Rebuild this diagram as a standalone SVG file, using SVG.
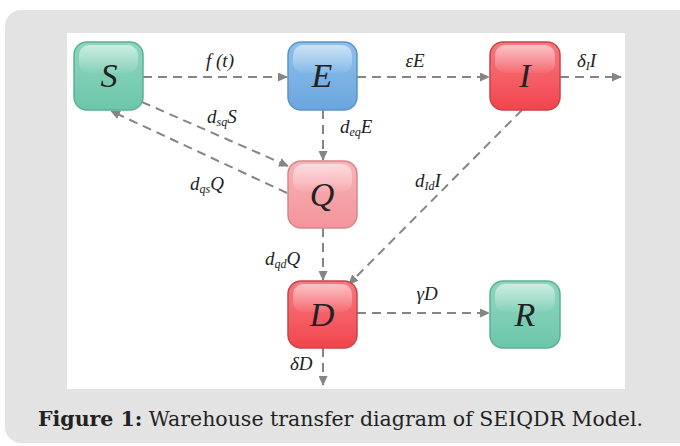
<svg xmlns="http://www.w3.org/2000/svg" width="680" height="446" viewBox="0 0 680 446">
<defs>
<style>
.lbl{font-family:"Liberation Serif","Times New Roman",serif;font-style:italic;font-size:19px;fill:#222}
.sub{font-size:12px}
.big{font-family:"Liberation Serif","Times New Roman",serif;font-style:italic;font-size:34px;fill:#222;text-anchor:middle}
.con{stroke:#858585;stroke-width:2;stroke-dasharray:9,6;fill:none}
.hl{fill:url(#hl)}
</style>
<marker id="ah" markerWidth="10" markerHeight="9" refX="9" refY="4.5" orient="auto" markerUnits="userSpaceOnUse">
<path d="M0,0 L10,4.5 L0,9 z" fill="#858585"/>
</marker>
<linearGradient id="gG" x1="0" y1="0" x2="0" y2="1"><stop offset="0" stop-color="#8fd6bf"/><stop offset="1" stop-color="#6cc6aa"/></linearGradient>
<linearGradient id="gB" x1="0" y1="0" x2="0" y2="1"><stop offset="0" stop-color="#8ec0ec"/><stop offset="1" stop-color="#6aa6de"/></linearGradient>
<linearGradient id="gR" x1="0" y1="0" x2="0" y2="1"><stop offset="0" stop-color="#f77a80"/><stop offset="1" stop-color="#f2454d"/></linearGradient>
<linearGradient id="gP" x1="0" y1="0" x2="0" y2="1"><stop offset="0" stop-color="#f9b3b7"/><stop offset="1" stop-color="#f3949a"/></linearGradient>
<linearGradient id="hl" x1="0" y1="0" x2="0" y2="1"><stop offset="0" stop-color="#fff" stop-opacity="0.55"/><stop offset="1" stop-color="#fff" stop-opacity="0.05"/></linearGradient>
</defs>
<rect x="5" y="10" width="690" height="433" rx="16" fill="#e3e3e3"/>
<rect x="67" y="33" width="558" height="356" fill="#ffffff"/>

<g id="connectors">
<path class="con" d="M143,77 L287,77" marker-end="url(#ah)"/>
<path class="con" d="M357,77 L489,77" marker-end="url(#ah)"/>
<path class="con" d="M560,77 L621,77" marker-end="url(#ah)"/>
<path class="con" d="M323,110 L323,160" marker-end="url(#ah)"/>
<path class="con" d="M142,102 L288,166" marker-end="url(#ah)"/>
<path class="con" d="M287,193 L111,111" marker-end="url(#ah)"/>
<path class="con" d="M323,228 L323,280" marker-end="url(#ah)"/>
<path class="con" d="M522,110 L349,284" marker-end="url(#ah)"/>
<path class="con" d="M357,313 L489,313" marker-end="url(#ah)"/>
<path class="con" d="M323,348 L323,385" marker-end="url(#ah)"/>
</g>

<g id="labels">
<text class="lbl" x="220" y="67" text-anchor="middle">f (t)</text>
<text class="lbl" x="415" y="67" text-anchor="middle">εE</text>
<text class="lbl" x="577" y="67">δ<tspan class="sub" dy="3">I</tspan><tspan dy="-3">I</tspan></text>
<text class="lbl" x="207" y="123">d<tspan class="sub" dy="3">sq</tspan><tspan dy="-3">S</tspan></text>
<text class="lbl" x="340" y="133">d<tspan class="sub" dy="3">eq</tspan><tspan dy="-3">E</tspan></text>
<text class="lbl" x="190" y="190">d<tspan class="sub" dy="3">qs</tspan><tspan dy="-3">Q</tspan></text>
<text class="lbl" x="415" y="187">d<tspan class="sub" dy="3">Id</tspan><tspan dy="-3">I</tspan></text>
<text class="lbl" x="265" y="265">d<tspan class="sub" dy="3">qd</tspan><tspan dy="-3">Q</tspan></text>
<text class="lbl" x="427" y="300" text-anchor="middle">γD</text>
<text class="lbl" x="290" y="370">δD</text>
</g>

<g id="S">
<rect x="74" y="42" width="69" height="68" rx="13" fill="url(#gG)" stroke="#5bb196" stroke-width="1.5"/>
<rect x="79" y="45" width="59" height="28" rx="10" class="hl"/>
<text class="big" x="109" y="87">S</text>
</g>
<g id="E">
<rect x="288" y="42" width="69" height="68" rx="13" fill="url(#gB)" stroke="#5a94cc" stroke-width="1.5"/>
<rect x="293" y="45" width="59" height="28" rx="10" class="hl"/>
<text class="big" x="322" y="87">E</text>
</g>
<g id="I">
<rect x="490" y="42" width="70" height="68" rx="13" fill="url(#gR)" stroke="#c9434a" stroke-width="1.5"/>
<rect x="495" y="45" width="60" height="28" rx="10" class="hl"/>
<text class="big" x="525" y="87">I</text>
</g>
<g id="Q">
<rect x="288" y="161" width="69" height="67" rx="13" fill="url(#gP)" stroke="#d8868b" stroke-width="1.5"/>
<rect x="293" y="164" width="59" height="28" rx="10" class="hl"/>
<text class="big" x="322" y="206">Q</text>
</g>
<g id="D">
<rect x="288" y="281" width="69" height="67" rx="13" fill="url(#gR)" stroke="#c9434a" stroke-width="1.5"/>
<rect x="293" y="284" width="59" height="28" rx="10" class="hl"/>
<text class="big" x="322" y="326">D</text>
</g>
<g id="R">
<rect x="490" y="281" width="70" height="67" rx="13" fill="url(#gG)" stroke="#5bb196" stroke-width="1.5"/>
<rect x="495" y="284" width="60" height="28" rx="10" class="hl"/>
<text class="big" x="525" y="326">R</text>
</g>

<text x="38" y="426" font-family="'DejaVu Serif','Liberation Serif',serif" font-size="20" fill="#222" textLength="605" lengthAdjust="spacingAndGlyphs"><tspan font-weight="bold">Figure 1:</tspan> Warehouse transfer diagram of SEIQDR Model.</text>
</svg>
